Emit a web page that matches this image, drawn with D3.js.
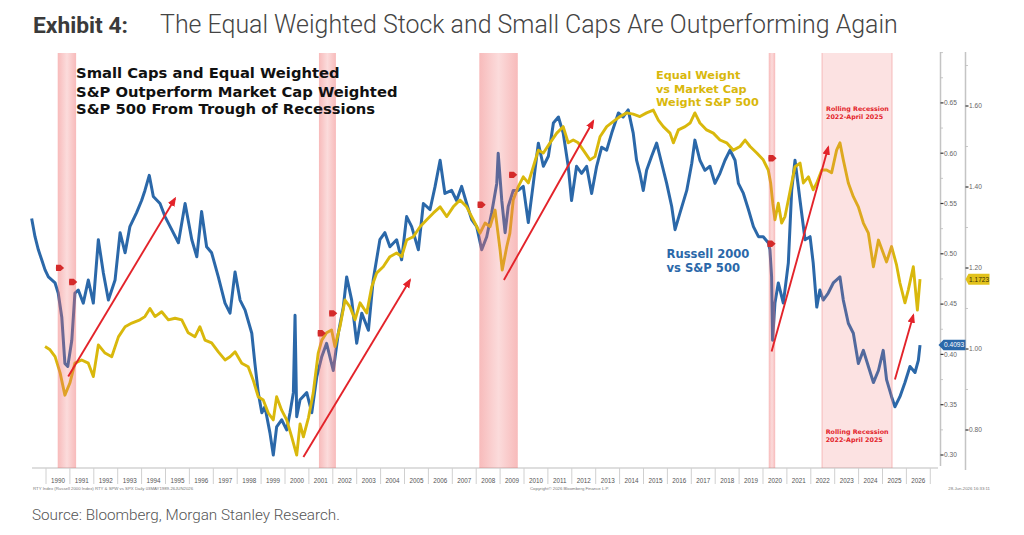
<!DOCTYPE html>
<html><head><meta charset="utf-8">
<script src="https://cdn.jsdelivr.net/npm/d3@7"></script>
<style>
html,body{margin:0;padding:0;background:#fff;}
svg{display:block;}
</style></head><body>
<svg id="c" width="1024" height="535"></svg>
<script>
// ---------------- DATA ----------------
// Russell 2000 vs S&P 500 ratio  [year, ratio]
const russellVsSpx = [[1989.40,0.535],[1989.54,0.517],[1989.68,0.504],[1989.82,0.494],[1989.96,0.484],[1990.10,0.477],[1990.38,0.471],[1990.51,0.461],[1990.66,0.437],[1990.79,0.391],[1990.91,0.388],[1991.08,0.414],[1991.21,0.461],[1991.35,0.464],[1991.56,0.451],[1991.77,0.474],[1991.98,0.451],[1992.19,0.514],[1992.40,0.481],[1992.61,0.454],[1992.89,0.474],[1993.10,0.521],[1993.31,0.501],[1993.51,0.527],[1993.79,0.541],[1994.00,0.553],[1994.14,0.563],[1994.32,0.578],[1994.49,0.557],[1994.77,0.550],[1994.98,0.537],[1995.26,0.524],[1995.54,0.511],[1995.82,0.550],[1996.10,0.514],[1996.31,0.497],[1996.51,0.542],[1996.72,0.507],[1996.93,0.501],[1997.21,0.477],[1997.49,0.451],[1997.70,0.441],[1997.91,0.482],[1998.12,0.454],[1998.33,0.444],[1998.61,0.421],[1998.74,0.391],[1998.88,0.362],[1999.03,0.342],[1999.16,0.348],[1999.37,0.322],[1999.51,0.300],[1999.65,0.328],[1999.86,0.335],[2000.07,0.325],[2000.21,0.342],[2000.35,0.362],[2000.42,0.439],[2000.49,0.338],[2000.63,0.355],[2000.91,0.362],[2001.12,0.342],[2001.33,0.378],[2001.54,0.398],[2001.74,0.411],[2002.02,0.384],[2002.23,0.421],[2002.44,0.447],[2002.58,0.477],[2002.79,0.454],[2003.00,0.411],[2003.21,0.441],[2003.49,0.424],[2003.69,0.474],[2003.97,0.514],[2004.18,0.521],[2004.39,0.507],[2004.67,0.514],[2004.88,0.494],[2005.09,0.537],[2005.30,0.527],[2005.58,0.504],[2005.79,0.550],[2006.07,0.544],[2006.28,0.567],[2006.49,0.593],[2006.69,0.560],[2006.97,0.563],[2007.18,0.553],[2007.39,0.567],[2007.60,0.550],[2007.81,0.534],[2008.02,0.527],[2008.23,0.504],[2008.44,0.517],[2008.65,0.541],[2008.86,0.570],[2008.92,0.600],[2009.07,0.553],[2009.21,0.521],[2009.34,0.547],[2009.55,0.563],[2009.76,0.563],[2009.97,0.567],[2010.18,0.531],[2010.39,0.570],[2010.60,0.610],[2010.81,0.587],[2011.02,0.597],[2011.23,0.630],[2011.44,0.636],[2011.64,0.620],[2011.85,0.587],[2011.99,0.553],[2012.20,0.587],[2012.41,0.580],[2012.62,0.587],[2012.83,0.560],[2013.04,0.587],[2013.25,0.606],[2013.46,0.603],[2013.67,0.620],[2013.95,0.640],[2014.15,0.636],[2014.36,0.643],[2014.57,0.620],[2014.71,0.593],[2014.85,0.580],[2014.99,0.563],[2015.13,0.583],[2015.34,0.597],[2015.55,0.610],[2015.76,0.590],[2015.97,0.570],[2016.18,0.547],[2016.32,0.524],[2016.53,0.541],[2016.81,0.563],[2017.02,0.590],[2017.15,0.613],[2017.36,0.593],[2017.57,0.583],[2017.78,0.587],[2017.99,0.570],[2018.20,0.580],[2018.41,0.593],[2018.62,0.603],[2018.83,0.593],[2018.97,0.570],[2019.18,0.560],[2019.39,0.544],[2019.60,0.527],[2019.81,0.517],[2020.01,0.517],[2020.22,0.511],[2020.29,0.504],[2020.36,0.477],[2020.40,0.414],[2020.50,0.451],[2020.64,0.471],[2020.85,0.451],[2021.06,0.491],[2021.20,0.563],[2021.34,0.593],[2021.55,0.553],[2021.76,0.514],[2021.97,0.517],[2022.10,0.491],[2022.25,0.447],[2022.38,0.464],[2022.52,0.454],[2022.73,0.461],[2022.94,0.471],[2023.22,0.477],[2023.36,0.454],[2023.57,0.431],[2023.78,0.421],[2023.99,0.391],[2024.20,0.404],[2024.41,0.388],[2024.62,0.372],[2024.83,0.384],[2025.03,0.404],[2025.17,0.375],[2025.38,0.358],[2025.52,0.348],[2025.73,0.358],[2025.94,0.372],[2026.15,0.388],[2026.36,0.382],[2026.50,0.394],[2026.57,0.4093]];

// Equal weight vs market-cap weight S&P 500 ratio  [year, ratio]
const equalVsCap = [[1989.96,1.006],[1990.17,0.998],[1990.38,0.981],[1990.59,0.941],[1990.79,0.886],[1991.00,0.916],[1991.21,0.965],[1991.49,0.973],[1991.77,0.965],[1991.98,0.932],[1992.19,1.010],[1992.47,0.990],[1992.75,0.981],[1993.03,1.030],[1993.31,1.055],[1993.59,1.064],[1993.93,1.072],[1994.14,1.080],[1994.35,1.100],[1994.56,1.080],[1994.84,1.092],[1995.12,1.072],[1995.40,1.076],[1995.68,1.072],[1995.95,1.040],[1996.23,1.030],[1996.44,1.055],[1996.65,1.022],[1996.93,1.015],[1997.21,0.993],[1997.49,0.973],[1997.70,0.981],[1997.91,0.993],[1998.19,0.965],[1998.46,0.956],[1998.67,0.923],[1998.88,0.882],[1999.09,0.874],[1999.30,0.842],[1999.51,0.825],[1999.65,0.882],[1999.86,0.849],[2000.07,0.825],[2000.28,0.783],[2000.49,0.738],[2000.63,0.815],[2000.77,0.783],[2000.98,0.830],[2001.18,0.891],[2001.39,0.990],[2001.54,1.022],[2001.74,1.040],[2001.95,1.047],[2002.09,1.006],[2002.30,1.055],[2002.51,1.121],[2002.72,1.104],[2002.93,1.072],[2003.14,1.114],[2003.42,1.089],[2003.63,1.154],[2003.84,1.188],[2004.11,1.203],[2004.39,1.228],[2004.67,1.237],[2004.88,1.228],[2005.09,1.269],[2005.37,1.277],[2005.65,1.302],[2005.93,1.319],[2006.21,1.336],[2006.49,1.351],[2006.77,1.327],[2007.04,1.351],[2007.32,1.368],[2007.60,1.351],[2007.88,1.319],[2008.16,1.286],[2008.37,1.311],[2008.58,1.302],[2008.79,1.343],[2009.00,1.244],[2009.09,1.195],[2009.28,1.253],[2009.41,1.286],[2009.55,1.368],[2009.76,1.401],[2009.97,1.425],[2010.18,1.410],[2010.39,1.450],[2010.60,1.491],[2010.81,1.484],[2011.09,1.509],[2011.37,1.533],[2011.64,1.549],[2011.85,1.509],[2012.06,1.516],[2012.27,1.509],[2012.48,1.491],[2012.76,1.467],[2012.97,1.475],[2013.18,1.524],[2013.46,1.549],[2013.81,1.565],[2014.02,1.574],[2014.30,1.583],[2014.57,1.580],[2014.85,1.574],[2015.13,1.583],[2015.41,1.590],[2015.62,1.565],[2015.83,1.549],[2016.11,1.533],[2016.25,1.509],[2016.46,1.541],[2016.74,1.549],[2016.95,1.558],[2017.15,1.583],[2017.36,1.558],[2017.64,1.541],[2017.92,1.533],[2018.20,1.516],[2018.48,1.509],[2018.76,1.491],[2019.04,1.500],[2019.25,1.516],[2019.46,1.500],[2019.74,1.484],[2020.01,1.467],[2020.22,1.442],[2020.32,1.410],[2020.41,1.360],[2020.50,1.319],[2020.64,1.360],[2020.78,1.311],[2020.92,1.327],[2021.06,1.368],[2021.20,1.410],[2021.34,1.450],[2021.55,1.459],[2021.69,1.410],[2021.90,1.425],[2022.10,1.393],[2022.25,1.410],[2022.46,1.442],[2022.66,1.442],[2022.87,1.435],[2023.08,1.491],[2023.22,1.509],[2023.36,1.467],[2023.57,1.410],[2023.78,1.376],[2023.99,1.351],[2024.20,1.311],[2024.41,1.286],[2024.62,1.203],[2024.83,1.269],[2025.03,1.237],[2025.17,1.215],[2025.38,1.253],[2025.59,1.207],[2025.73,1.163],[2025.94,1.114],[2026.08,1.146],[2026.29,1.203],[2026.46,1.096],[2026.57,1.1723]];

// recession shading [start, end, kind]
const recessions = [[1990.49,1991.26,"nber"],[2001.42,2002.13,"nber"],[2008.13,2009.74,"nber"],[2020.24,2020.51,"nber"],[2022.47,2025.40,"rolling"]];

// red trend arrows, in (year, Russell ratio) units: [t0, v0, t1, v1]
const trendArrows = [[1990.93,0.378,1995.40,0.555],[2000.77,0.298,2005.23,0.474],[2009.16,0.474,2012.90,0.632],[2020.36,0.403,2022.73,0.606],[2025.52,0.375,2026.29,0.439]];

// small red event pins [year, value, series]
const eventPins = [[1990.59,0.486,"russell"],[1991.14,0.472,"russell"],[2001.54,1.039,"equal"],[2002.02,1.088,"equal"],[2008.23,1.356,"equal"],[2009.55,1.430,"equal"],[2020.40,1.471,"equal"],[2020.36,0.510,"russell"]];

const russellTicks = [0.30,0.35,0.40,0.45,0.50,0.55,0.60,0.65];
const russellMinor = [0.325,0.375,0.425,0.475,0.525,0.575,0.625,0.675,0.70];
const equalTicks = [0.80,1.00,1.20,1.40,1.60];
const equalMinor = [0.90,1.10,1.30,1.50,1.70];
const yearLabels = d3.range(1990, 2027);
const lastRussell = 0.4093;
const lastEqual = 1.1723;

const titleBold = "Exhibit 4:";
const titleText = "The Equal Weighted Stock and Small Caps Are Outperforming Again";
const sourceText = "Source: Bloomberg, Morgan Stanley Research.";
const mainNote = ["Small Caps and Equal Weighted","S&P Outperform Market Cap Weighted","S&P 500 From Trough of Recessions"];
const equalNote = ["Equal Weight","vs Market Cap","Weight S&P 500"];
const russellNote = ["Russell 2000","vs S&P 500"];
const rollingNote = ["Rolling Recession","2022-April 2025"];

// ---------------- DRAWING ----------------
const BLUE = "#2b68a9", GOLD = "#d9b80c", RED = "#e3232a";
const svg = d3.select("#c");
const x = d3.scaleLinear().domain([1989.414, 2027.406]).range([32, 940]);
const yR = d3.scaleLinear().domain([0.30, 0.65]).range([455, 102.9]);
const yE = d3.scaleLinear().domain([0.80, 1.60]).range([430, 106]);
const plotTop = 53, plotBottom = 468;

function fitBlock(sel, target){
  let w = 0; sel.each(function(){ w = Math.max(w, this.getComputedTextLength()); });
  const fs = parseFloat(sel.attr("font-size"));
  sel.attr("font-size", fs * target / w);
}

// title
const tb = svg.append("text").attr("x",33).attr("y",33).attr("font-family","Roboto, sans-serif")
  .attr("font-weight",700).attr("font-size",22).attr("fill","#3a3a3a").text(titleBold);
fitBlock(tb, 95);
const tt = svg.append("text").attr("x",160).attr("y",33).attr("font-family","Roboto, sans-serif")
  .attr("font-weight",300).attr("font-size",22).attr("fill","#444").text(titleText);
fitBlock(tt, 738);
const st = svg.append("text").attr("x",32).attr("y",520).attr("font-family","Roboto, sans-serif")
  .attr("font-weight",300).attr("font-size",15).attr("fill","#555").text(sourceText);
fitBlock(st, 308);

// defs
const defs = svg.append("defs");
const grad = defs.append("linearGradient").attr("id","band").attr("x1","0").attr("x2","1").attr("y1","0").attr("y2","0");
grad.append("stop").attr("offset","0").attr("stop-color","#ef6a6a").attr("stop-opacity",0.46);
grad.append("stop").attr("offset","0.5").attr("stop-color","#ef6a6a").attr("stop-opacity",0.24);
grad.append("stop").attr("offset","1").attr("stop-color","#ef6a6a").attr("stop-opacity",0.46);
defs.append("marker").attr("id","ah").attr("viewBox","0 0 10 10").attr("refX",8).attr("refY",5)
  .attr("markerWidth",5).attr("markerHeight",5).attr("orient","auto").attr("markerUnits","strokeWidth")
  .append("path").attr("d","M0,1 L10,5 L0,9 Z").attr("fill",RED);

// x axis line and year separators
svg.append("line").attr("x1",32).attr("x2",938).attr("y1",plotBottom).attr("y2",plotBottom)
  .attr("stroke","#bdbdbd").attr("stroke-width",1.2);
svg.append("g").selectAll("line").data(d3.range(1990, 2028)).join("line")
  .attr("x1",d=>x(d)).attr("x2",d=>x(d)).attr("y1",plotBottom).attr("y2",plotBottom+16)
  .attr("stroke","#d0d0d0").attr("stroke-width",1);
svg.append("g").selectAll("text").data(yearLabels).join("text")
  .attr("x",d=>x(d+0.5)).attr("y",482.5).attr("text-anchor","middle")
  .attr("font-family","Liberation Sans, Arial, sans-serif").attr("font-size",6.3).attr("fill","#555")
  .text(d=>d);
// footnotes
const fn = {ff:"Liberation Sans, Arial, sans-serif", fs:4.3, c:"#777"};
svg.append("text").attr("x",33).attr("y",490).attr("font-family",fn.ff).attr("font-size",fn.fs).attr("fill",fn.c)
  .text("RTY Index (Russell 2000 Index) RTY & SPW vs SPX Daily 03MAY1989-26JUN2026");
svg.append("text").attr("x",530).attr("y",490).attr("font-family",fn.ff).attr("font-size",fn.fs).attr("fill",fn.c)
  .text("Copyright\u00A9 2026 Bloomberg Finance L.P.");
svg.append("text").attr("x",990).attr("y",490).attr("text-anchor","end").attr("font-family",fn.ff).attr("font-size",fn.fs).attr("fill",fn.c)
  .text("28-Jun-2026 16:33:11");

// lines
const lineR = d3.line().x(d=>x(d[0])).y(d=>yR(d[1]));
const lineE = d3.line().x(d=>x(d[0])).y(d=>yE(d[1]));
svg.append("path").datum(russellVsSpx).attr("d",lineR).attr("fill","none")
  .attr("stroke",BLUE).attr("stroke-width",3).attr("stroke-linejoin","round");
svg.append("path").datum(equalVsCap).attr("d",lineE).attr("fill","none")
  .attr("stroke",GOLD).attr("stroke-width",2.9).attr("stroke-linejoin","round");

// recession bands (overlay)
const bands = svg.append("g");
recessions.forEach(r=>{
  const x0 = x(r[0]), x1 = x(r[1]);
  if (r[2]==="nber"){
    bands.append("rect").attr("x",x0).attr("y",plotTop).attr("width",x1-x0).attr("height",plotBottom-plotTop)
      .attr("fill","url(#band)");
  } else {
    bands.append("rect").attr("x",x0).attr("y",plotTop).attr("width",x1-x0).attr("height",plotBottom-plotTop)
      .attr("fill","#f07070").attr("fill-opacity",0.2);
    [x0,x1].forEach(xx=>bands.append("line").attr("x1",xx).attr("x2",xx).attr("y1",plotTop).attr("y2",plotBottom)
      .attr("stroke","#f08a8a").attr("stroke-opacity",0.5).attr("stroke-width",1));
  }
});

// event pins
svg.append("g").selectAll("path").data(eventPins).join("path")
  .attr("transform",d=>`translate(${x(d[0])},${d[2]==="russell"?yR(d[1]):yE(d[1])})`)
  .attr("d","M-4,-3.2 Q-4.5,0 -4,3.2 L0.5,3.2 L4,0 L0.5,-3.2 Z").attr("fill","#d42a2a");

// trend arrows
svg.append("g").selectAll("line").data(trendArrows).join("line")
  .attr("x1",d=>x(d[0])).attr("y1",d=>yR(d[1])).attr("x2",d=>x(d[2])).attr("y2",d=>yR(d[3]))
  .attr("stroke",RED).attr("stroke-width",1.9).attr("marker-end","url(#ah)");

// right axes
const axFont = "Liberation Sans, Arial, sans-serif";
const ax1 = 940.5, ax2 = 965.5;
svg.append("line").attr("x1",ax1).attr("x2",ax1).attr("y1",52).attr("y2",466).attr("stroke","#c4c4c4").attr("stroke-width",1.5);
svg.append("line").attr("x1",ax2).attr("x2",ax2).attr("y1",52).attr("y2",470).attr("stroke","#c4c4c4").attr("stroke-width",1.5);
svg.append("g").selectAll("line").data(russellMinor).join("line")
  .attr("x1",ax1).attr("x2",ax1+2.5).attr("y1",d=>yR(d)).attr("y2",d=>yR(d)).attr("stroke","#bbb").attr("stroke-width",0.8);
svg.append("g").selectAll("line").data(equalMinor).join("line")
  .attr("x1",ax2).attr("x2",ax2+2.5).attr("y1",d=>yE(d)).attr("y2",d=>yE(d)).attr("stroke","#bbb").attr("stroke-width",0.8);
svg.append("g").selectAll("line").data(russellTicks).join("line")
  .attr("x1",ax1).attr("x2",ax1+3).attr("y1",d=>yR(d)).attr("y2",d=>yR(d)).attr("stroke","#333").attr("stroke-width",1.2);
svg.append("g").selectAll("line").data(equalTicks).join("line")
  .attr("x1",ax2).attr("x2",ax2+3).attr("y1",d=>yE(d)).attr("y2",d=>yE(d)).attr("stroke","#333").attr("stroke-width",1.2);
svg.append("g").selectAll("text").data(russellTicks).join("text")
  .attr("x",ax1+3.5).attr("y",d=>yR(d)+2.3).attr("font-family",axFont).attr("font-size",6.6).attr("fill","#666")
  .text(d=>d.toFixed(2));
svg.append("g").selectAll("text").data(equalTicks).join("text")
  .attr("x",ax2+3.5).attr("y",d=>yE(d)+2.3).attr("font-family",axFont).attr("font-size",6.6).attr("fill","#666")
  .text(d=>d.toFixed(2));

// last-value tags
const yb = yR(lastRussell);
svg.append("path").attr("d",`M${ax1-2},${yb} L${ax1+3},${yb-5.2} L${ax2},${yb-5.2} L${ax2},${yb+5.2} L${ax1+3},${yb+5.2} Z`).attr("fill",BLUE);
svg.append("text").attr("x",ax1+3.5).attr("y",yb+2.3).attr("font-family",axFont).attr("font-size",6.6).attr("fill","#fff").text(lastRussell.toFixed(4));
const yg = yE(lastEqual);
svg.append("path").attr("d",`M${ax2},${yg} L${ax2+3},${yg-5.5} L${ax2+24},${yg-5.5} L${ax2+24},${yg+5.5} L${ax2+3},${yg+5.5} Z`).attr("fill","#e2c21c");
svg.append("text").attr("x",ax2+3.5).attr("y",yg+2.3).attr("font-family",axFont).attr("font-size",6.6).attr("fill","#3a3000").text(lastEqual.toFixed(4));

// annotations
const noteFont = "DejaVu Sans, Verdana, sans-serif";
function block(lines, x0, ys, fs, color, target){
  const g = svg.append("g");
  const sel = g.selectAll("text").data(lines).join("text")
    .attr("x",x0).attr("y",(d,i)=>ys[i]).attr("font-family",noteFont).attr("font-weight",700)
    .attr("font-size",fs).attr("fill",color).text(d=>d);
  fitBlock(sel, target);
}
block(mainNote, 76, [78.3,96.6,114.3], 14.5, "#111", 322);
block(equalNote, 656, [79.3,92.5,105.5], 12, GOLD, 103);
block(russellNote, 666.5, [258.3,271.7], 12, BLUE, 83);
block(rollingNote, 826, [111.3,119], 6.5, RED, 63);
block(rollingNote, 825.7, [434,442.3], 6.5, RED, 63);
</script>
</body></html>
